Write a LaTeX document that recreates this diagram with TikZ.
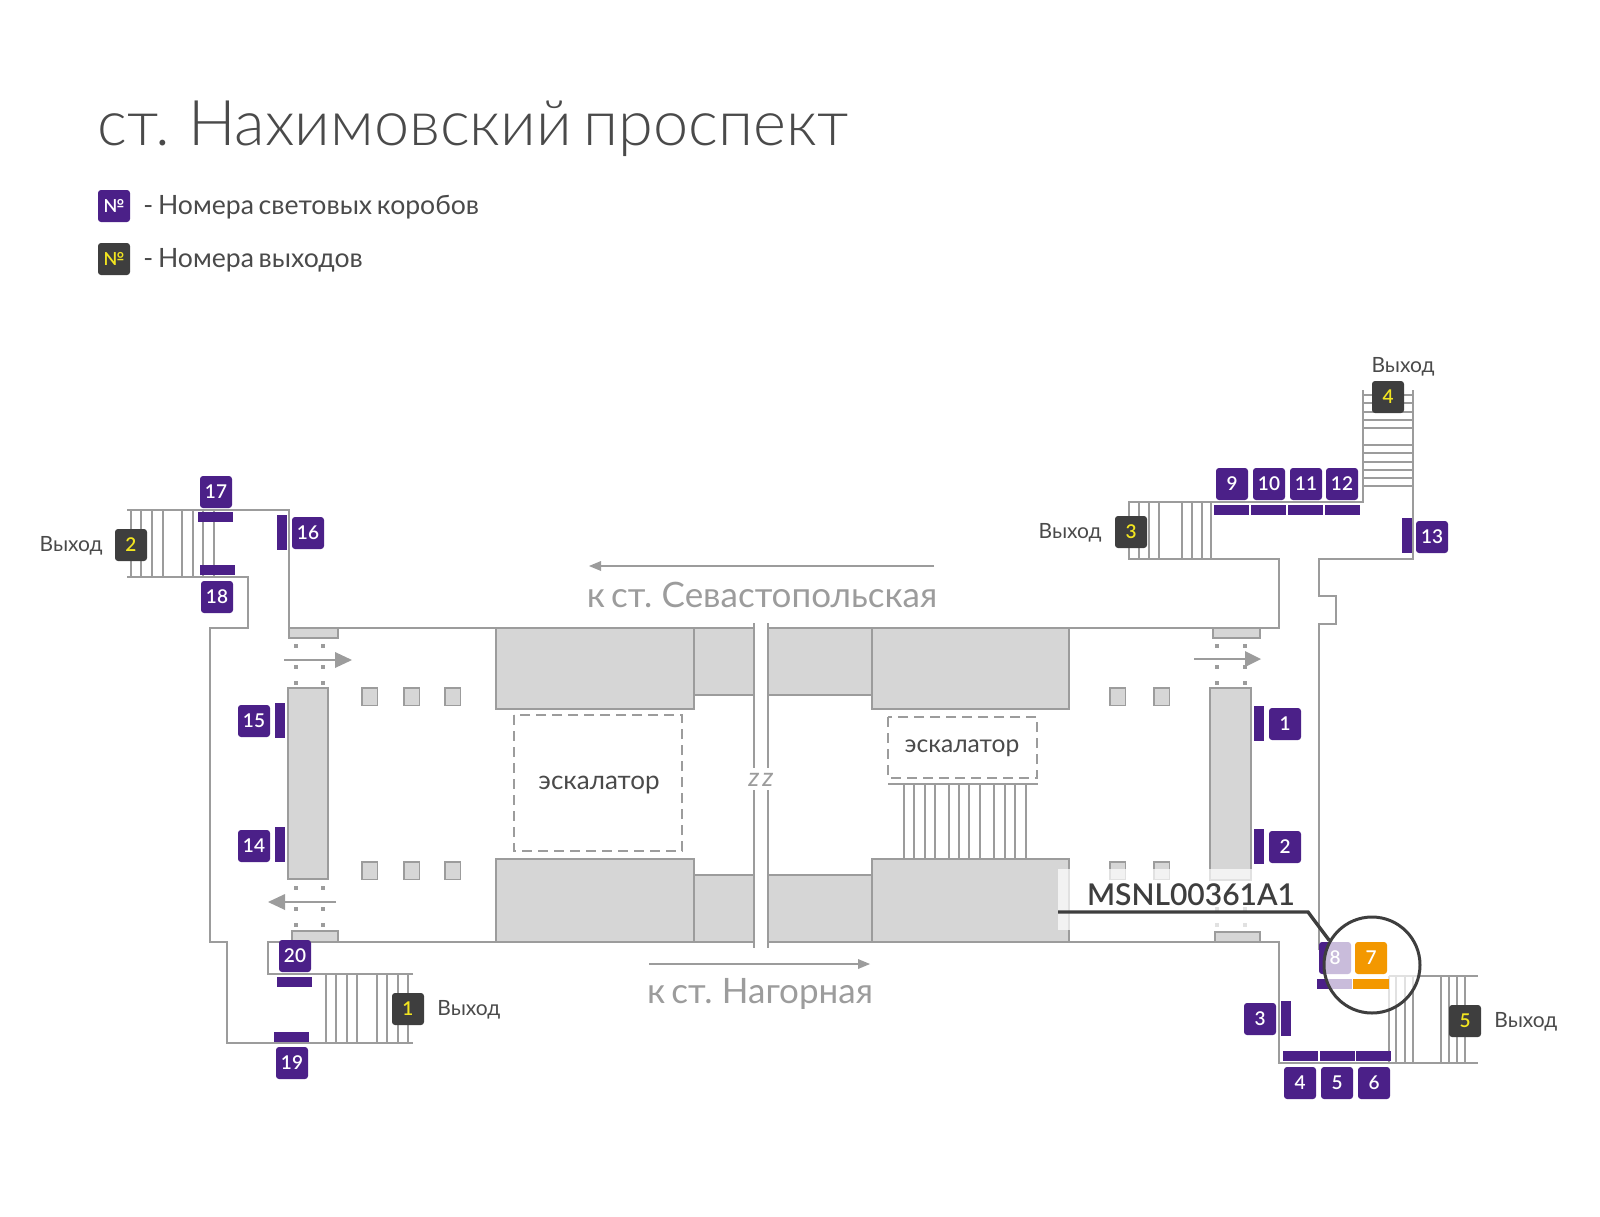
\documentclass[tikz,border=0pt]{standalone}
\usepackage{fontspec}
\usepackage{xcolor}
\setmainfont{Lato}[WordSpace=0.7]
\newfontfamily\titlefont{Lato Light}[WordSpace=0.7]
\newfontfamily\boxfont{Lato Semibold}
\definecolor{wallgrey}{HTML}{9C9C9C}
\definecolor{blockgrey}{HTML}{D6D6D6}
\definecolor{boxpurple}{HTML}{4B2088}
\definecolor{exitdark}{HTML}{3E3E3E}
\definecolor{exityellow}{HTML}{F2E520}
\definecolor{textgrey}{HTML}{4A4A4A}
\definecolor{hilite}{HTML}{F39800}
\tikzset{
    wall/.style={draw=wallgrey, line width=0.75pt},
    block/.style={wall, fill=blockgrey},
    numbox/.style={fill=boxpurple, text=white, rounded corners=1.5pt, minimum size=16pt, inner sep=0pt, font=\boxfont\fontsize{9.5}{10}\selectfont},
    exitbox/.style={numbox, fill=exitdark, text=exityellow},
    exitlabel/.style={text=textgrey, inner sep=0pt, font=\fontsize{10.5}{12}\selectfont},
    dirlabel/.style={text=wallgrey, inner sep=0pt, font=\fontsize{17.5}{18}\selectfont},
    esclabel/.style={text=textgrey, inner sep=0pt},
    legendlabel/.style={text=textgrey, anchor=base west, inner sep=0pt, font=\fontsize{13.3}{14}\selectfont},
}
\begin{document}
\begin{tikzpicture}[x=0.5pt, y=-0.5pt]
    \useasboundingbox (0,0) rectangle (1600,1216);
    \node[text=textgrey, anchor=base west, inner sep=0pt, font=\titlefont\fontsize{31.5}{34}\selectfont] (title) at (97,145) {ст. Нахимовский проспект};
    \node[numbox, font=\boxfont\fontsize{9}{10}\selectfont] (legendbox) at (114,206) {№};
    \node[exitbox, font=\boxfont\fontsize{9}{10}\selectfont] (legendexit) at (114,259) {№};
    \node[legendlabel] (legendboxtext) at (143,214) {- Номера световых коробов};
    \node[legendlabel] (legendexittext) at (143,267) {- Номера выходов};

    % walls
    \draw[wall] (127,510) -- (289,510) -- (289,628) -- (1279,628) -- (1279,559) -- (1128,559);
    \draw[wall] (127,577) -- (248,577) -- (248,628) -- (210,628) -- (210,942) -- (227,942) -- (227,1043) -- (413,1043);
    \draw[wall] (413,974) -- (268,974) -- (268,942) -- (1279,942) -- (1279,1063) -- (1478,1063);
    \draw[wall] (1128,502) -- (1363,502) -- (1363,390);
    \draw[wall] (1413,390) -- (1413,559) -- (1319,559) -- (1319,596) -- (1336,596) -- (1336,624) -- (1319,624) -- (1319,950);
    \draw[wall] (1389,976) -- (1478,976);

    % stairs
    \foreach \x in {131,141,152,163,182,193,203,214}{
    \draw[wall] (\x,510) -- (\x,577);}
    \foreach \x in {326,336,347,357,377,387,398,408}{
    \draw[wall] (\x,974) -- (\x,1043);}
    \foreach \x in {1129,1139,1149,1159,1182,1192,1202,1211}{
    \draw[wall] (\x,502) -- (\x,559);}
    \foreach \x in {1389,1396,1405,1413,1441,1449,1457,1465}{
    \draw[wall] (\x,976) -- (\x,1063);}
    \foreach \y in {395,403,412,420,428,445,453,462,470,478,486}{
    \draw[wall] (1363,\y) -- (1413,\y);}
    \foreach \x in {904,914,925,935,949,959,969,980,994,1005,1015,1026}{
    \draw[wall] (\x,784) -- (\x,859);}
    \draw[wall] (888,784) -- (1038,784);

    % blocks
    \foreach \xa/\ya/\xb/\yb in {496/628/694/709, 694/628/754/695, 768/628/872/695, 872/628/1069/709,
        496/859/694/942, 694/875/754/942, 768/875/872/942, 872/859/1069/942,
        288/688/328/879, 1210/688/1251/880,
        289/628/338/638, 1213/628/1260/638, 292/931/338/942, 1215/932/1260/942}{
    \draw[block] (\xa,\ya) rectangle (\xb,\yb);}
    \foreach \x/\y in {362/688, 404/688, 445/688, 362/862, 404/862, 445/862, 1110/688, 1154/688, 1110/862, 1154/862}{
    \draw[block] (\x,\y) rectangle (\x+15.5,\y+17.5);}
    \foreach \x/\y in {296/646, 323/646, 296/667, 323/667, 296/683, 323/683, 1217/646, 1245/646, 1217/667, 1245/667, 1217/683, 1245/683,
        296/888, 323/888, 296/909, 323/909, 296/925, 323/925, 1217/888, 1245/888, 1217/909, 1245/909, 1217/925, 1245/925}{
    \fill[wallgrey] (\x-2,\y-2) rectangle (\x+2,\y+2);}

    % gap between the halves
    \fill[white] (754,620) rectangle (768,950);
    \foreach \x in {754,768}{
    \draw[wall] (\x,623) -- (\x,768);
    \draw[wall] (\x,790) -- (\x,948);
    \node[text=wallgrey, inner sep=0pt, font=\itshape\fontsize{13}{14}\selectfont] (gapmark\x) at (\x,780) {z};}

    % escalators
    \draw[wallgrey, line width=0.75pt, dash pattern=on 5pt off 3pt] (514,715) rectangle (682,851);
    \draw[wallgrey, line width=0.75pt, dash pattern=on 5pt off 3pt] (888,717) rectangle (1037,778);
    \node[esclabel, font=\fontsize{13}{14}\selectfont] (escleft) at (599,785) {эскалатор};
    \node[esclabel, font=\fontsize{12.3}{14}\selectfont] (escright) at (962,748) {эскалатор};

    % direction arrows
    \foreach \xa/\xb/\xc/\y in {284/335/352/660, 1194/1245/1261/659, 336/285/268/902}{
    \draw[wallgrey, line width=0.75pt] (\xa,\y) -- (\xb,\y);
    \fill[wallgrey] (\xb,\y-8) -- (\xc,\y) -- (\xb,\y+8) -- cycle;}
    \foreach \xa/\xb/\xc/\y in {934/601/589/566, 649/858/870/964}{
    \draw[wallgrey, line width=0.75pt] (\xa,\y) -- (\xb,\y);
    \fill[wallgrey] (\xb,\y-5) -- (\xc,\y) -- (\xb,\y+5) -- cycle;}
    \node[dirlabel] (tosevast) at (762,595) {к ст. Севастопольская};
    \node[dirlabel] (tonagorn) at (760,994) {к ст. Нагорная};

    % light box bars
    \foreach \x/\y in {1254/706, 1254/829, 1281/1001, 1402/518, 277/515, 275/703, 275/827}{
    \fill[boxpurple] (\x,\y) rectangle (\x+9.5,\y+35);}
    \foreach \x/\y in {1214/505, 1251/505, 1288/505, 1325/505, 198/512, 200/565, 277/977, 274/1032, 1283/1051, 1320/1051, 1356/1051, 1317/979, 1353/979}{
    \fill[boxpurple] (\x,\y) rectangle (\x+35,\y+9.5);}

    \foreach \x/\y/\t in {1285/724/1, 1285/847/2, 1260/1019/3, 1300/1083/4, 1337/1083/5, 1374/1083/6, 1335/958/8,
        1232/484/9, 1269/484/10, 1306/484/11, 1342/484/12, 1432/537/13, 254/846/14, 254/721/15, 308/533/16,
        216/492/17, 217/597/18, 292/1063/19, 295/956/20}{
    \node[numbox] (box\t) at (\x,\y) {\t};}
    \foreach \x/\y/\t in {408/1009/1, 131/545/2, 1131/532/3, 1388/397/4, 1465/1021/5}{
    \node[exitbox] (exit\t) at (\x,\y) {\t};}
    \node[exitlabel, anchor=west] (exittext1) at (437,1010) {Выход};
    \node[exitlabel, anchor=east] (exittext2) at (103,546) {Выход};
    \node[exitlabel, anchor=east] (exittext3) at (1102,533) {Выход};
    \node[exitlabel] (exittext4) at (1403,367) {Выход};
    \node[exitlabel, anchor=west] (exittext5) at (1494,1022) {Выход};

    % callout
    \fill[white, opacity=.7] (1058,869) rectangle (1314,930);
    \node[text=exitdark, inner sep=0pt, font=\boxfont\fontsize{15}{16}\selectfont] (spotlabel) at (1191,895) {MSNL00361A1};
    \node[circle, fill=white, fill opacity=.7, draw=exitdark, line width=1.5pt, minimum size=48pt, inner sep=0pt] (lens) at (1372,965) {};
    \fill[hilite] (1353,979) rectangle (1389,989);
    \node[numbox, fill=hilite] (box7) at (1371,958) {7};
    \coordinate (leaderstart) at (1058,912);
    \coordinate (leaderknee) at (1308,912);
    \draw[exitdark, line width=1.7pt] (leaderstart) -- (leaderknee) -- (lens.150);
\end{tikzpicture}
\end{document}
